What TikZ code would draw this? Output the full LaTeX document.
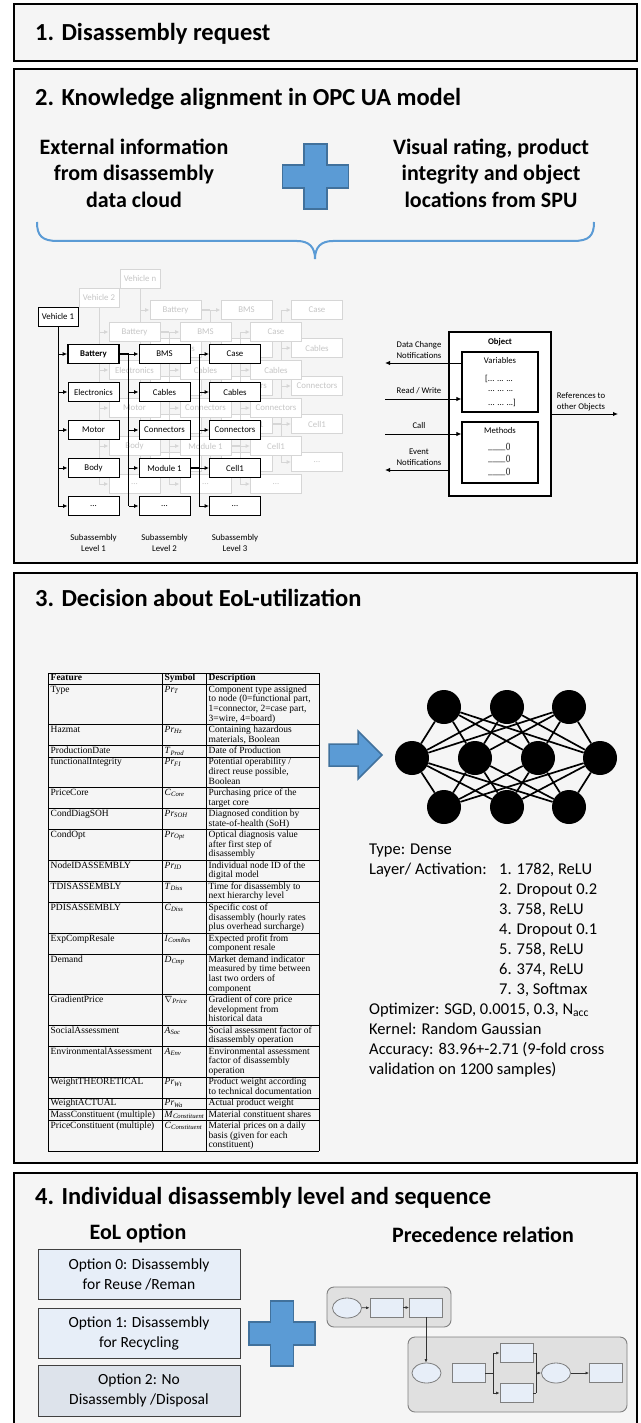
\documentclass[tikz,border=0pt]{standalone}
\usepackage{fontspec}
\setmainfont{Carlito}
\newfontfamily\tabfont{Liberation Serif}
\usetikzlibrary{arrows.meta,calc,shapes.geometric}

\definecolor{panelbg}{HTML}{F5F5F5}
\definecolor{plusblue}{HTML}{5B9BD5}
\definecolor{plusedge}{HTML}{41719C}
\definecolor{ghost}{HTML}{D6D6D6}
\definecolor{ghosttext}{HTML}{C6C6C6}
\definecolor{optblue}{HTML}{E7EEF8}
\definecolor{optgrey}{HTML}{DDE3EB}
\definecolor{grpfill}{HTML}{E0E0E0}
\definecolor{grpedge}{HTML}{7F7F7F}
\definecolor{shapefill}{HTML}{E7EEF8}

\newcommand\tabTop{673}
\newcommand\tabY{673}
\newcommand\tabPitch{9.7}
\newcommand\tabPad{1.6}
\newcount\rowno
\newcommand\sym[2]{\textit{#1}\textsubscript{\textit{#2}}}

\newcommand\trow[4]{%
  \global\advance\rowno by 1
  \node[tcell] (fe\the\rowno) at (50.5,\tabY+0.9) {\strut #2};
  \node[tcell] (sy\the\rowno) at (164.5,\tabY+0.9) {\strut #3};
  \node[tcell] (de\the\rowno) at (208.5,\tabY+0.9) {\strut #4};
  \pgfmathsetmacro\tabYnew{\tabY+#1*\tabPitch+\tabPad}
  \draw[tline] (48,\tabYnew) -- (319,\tabYnew);
  \global\let\tabY\tabYnew
}

\newcommand\bluecross[2]{%
  \draw[plusstyle,shift={(#1,#2)}] (-11.5,-32.5) -- (11.5,-32.5) -- (11.5,-11.5) -- (33,-11.5) -- (33,11.5) -- (11.5,11.5) -- (11.5,32.5) -- (-11.5,32.5) -- (-11.5,11.5) -- (-33,11.5) -- (-33,-11.5) -- (-11.5,-11.5) -- cycle;}

% #1 dx, #2 dy, #3 extra vehicle dy, #4 suffix, #5 vehicle label, #6 style kind (S/G)
\newcommand\treelayer[6]{%
\begin{scope}[shift={(#1,#2)}]
  \node[vbox#6] (v#4) at (58,316.5+#3) {#5};
  \node[box#6,bat#6] (a#41) at (93.5,354) {Battery};
  \node[box#6] (a#42) at (93.5,392) {Electronics};
  \node[box#6] (a#43) at (93.5,430) {Motor};
  \node[box#6] (a#44) at (93.5,468) {Body};
  \node[box#6] (a#45) at (93.5,506) {...};
  \node[box#6] (b#41) at (164.5,354) {BMS};
  \node[box#6] (b#42) at (164.5,392) {Cables};
  \node[box#6] (b#43) at (164.5,430) {Connectors};
  \node[box#6] (b#44) at (164.5,468) {Module 1};
  \node[box#6] (b#45) at (164.5,506) {...};
  \node[box#6] (c#41) at (235,354) {Case};
  \node[box#6] (c#42) at (235,392) {Cables};
  \node[box#6] (c#43) at (235,430) {Connectors};
  \node[box#6] (c#44) at (235,468) {Cell1};
  \node[box#6] (c#45) at (235,506) {...};
  \draw[ln#6] (v#4.south) -- (v#4.south |- a#45.west);
  \foreach \i in {1,...,5} \draw[ar#6] (v#4.south |- a#4\i.west) -- (a#4\i.west);
  \draw[thk#6] (a#41.east) -- ++(9,0) coordinate (j#4);
  \draw[ln#6] (j#4) -- (j#4 |- b#45.west);
  \foreach \i in {1,...,5} \draw[ar#6] (j#4 |- b#4\i.west) -- (b#4\i.west);
  \draw[thk#6] (b#44.east) -- ++(9,0) coordinate (k#4);
  \draw[ln#6] (k#4 |- c#41.west) -- (k#4 |- c#45.west);
  \foreach \i in {1,...,5} \draw[ar#6] (k#4 |- c#4\i.west) -- (c#4\i.west);
\end{scope}}

\tikzset{
  panel/.style={draw=black,line width=2.6,fill=panelbg},
  title/.style={anchor=base west,inner sep=0,font=\fontsize{24.5}{29}\selectfont\bfseries},
  subtxt/.style={align=center,inner sep=0,font=\fontsize{22}{26.5}\selectfont\bfseries},
  plusstyle/.style={fill=plusblue,draw=plusedge,line width=1.5,line join=miter},
  brace/.style={draw=plusblue,line width=2},
  boxS/.style={draw=black,fill=white,line width=0.9,minimum width=51,minimum height=19,inner sep=0,font=\fontsize{8.8}{10}\selectfont},
  batS/.style={line width=1.7,font=\fontsize{8.8}{10}\selectfont\bfseries},
  vboxS/.style={boxS,minimum width=40},
  lnS/.style={draw=black,line width=0.9},
  arS/.style={lnS,-{Latex[length=4.5,width=4]}},
  thkS/.style={draw=black,line width=1.9},
  boxG/.style={boxS,draw=ghost,text=ghosttext},
  batG/.style={},
  vboxG/.style={boxG,minimum width=40},
  lnG/.style={draw=ghost,line width=0.9},
  arG/.style={lnG,-{Latex[length=4.5,width=4]}},
  thkG/.style={draw=ghost,line width=1.9},
  lvl/.style={align=center,inner sep=0,font=\fontsize{8.8}{11}\selectfont},
  objbox/.style={draw=black,fill=white,line width=1.4,minimum width=102,minimum height=164,inner sep=0},
  inbox/.style={draw=black,fill=white,line width=1.1,minimum width=76,minimum height=60,inner sep=0},
  otxt/.style={inner sep=0,align=center,font=\fontsize{8.7}{11}\selectfont},
  oar/.style={draw=black,line width=1,-{Latex[length=5,width=4.5]}},
  tcell/.style={anchor=north west,inner sep=0,align=left,font=\tabfont\fontsize{9.5}{9.7}\selectfont},
  tline/.style={draw=black,line width=0.6},
  nn/.style={circle,fill=black,minimum size=34,inner sep=0},
  nnedge/.style={draw=black,line width=1.7},
  nninfo/.style={anchor=north west,inner sep=0,font=\fontsize{16.5}{20}\selectfont},
  head/.style={inner sep=0,font=\fontsize{22}{26}\selectfont\bfseries},
  optbox/.style={draw=black!75,line width=1,minimum width=202,minimum height=50,inner sep=0,align=center,font=\fontsize{15.5}{20}\selectfont},
  grp/.style={draw=grpedge,fill=grpfill,line width=0.9,rounded corners=7},
  pell/.style={ellipse,draw=grpedge,fill=shapefill,line width=0.8,minimum width=29,minimum height=20,inner sep=0},
  prect/.style={draw=grpedge,fill=shapefill,line width=0.8,minimum width=33,minimum height=19,inner sep=0},
  pln/.style={draw=black!80,line width=0.7},
  par/.style={pln,-{Latex[length=3.5,width=3]}}
}

\begin{document}
\begin{tikzpicture}[x=1pt,y=-1pt]
\useasboundingbox (0,0) rectangle (640,1423);
\fill[white] (0,0) rectangle (640,1423);

% ---------- panels ----------
\draw[panel] (14,4) rectangle (637,61);
\draw[panel] (14,69) rectangle (637,563);
\draw[panel] (14,573) rectangle (637,1163);
\draw[panel] (14,1173) rectangle (637,1440);

% ---------- section 1 ----------
\node[title] (t1) at (35,40.5) {1. Disassembly request};

% ---------- section 2 ----------
\node[title] (t2) at (35,105.5) {2. Knowledge alignment in OPC UA model};
\node[subtxt] (ext) at (134,173) {External information\\from disassembly\\data cloud};
\node[subtxt] (vis) at (491,173) {Visual rating, product\\integrity and object\\locations from SPU};
\bluecross{315.5}{176.5}
\draw[brace] (37,222) .. controls (37,236) and (42,241) .. (58,241) -- (297,241)
  .. controls (309,241) and (315,247) .. (315,259)
  .. controls (315,247) and (321,241) .. (333,241) -- (573,241)
  .. controls (589,241) and (594,236) .. (594,222);

% tree
\treelayer{82}{-44}{6}{n}{Vehicle n}{G}
\treelayer{41}{-22}{3}{t}{Vehicle 2}{G}
\treelayer{0}{0}{0}{o}{Vehicle 1}{S}
\node[lvl] (lv1) at (93.5,543) {Subassembly\\Level 1};
\node[lvl] (lv2) at (164.5,543) {Subassembly\\Level 2};
\node[lvl] (lv3) at (235,543) {Subassembly\\Level 3};

% OPC UA object
\node[objbox] (obj) at (500,414) {};
\node[otxt,font=\fontsize{8.7}{11}\selectfont\bfseries] (objl) at (500,342) {Object};
\node[inbox] (var) at (500,382) {};
\node[otxt] (varl) at (500,361) {Variables};
\node[otxt,anchor=west] (vd1) at (485,379) {[... ... ...};
\node[otxt,anchor=west] (vd2) at (488,391) {... ... ...};
\node[otxt,anchor=west] (vd3) at (488,403) {... ... ...]};
\node[inbox,minimum height=61] (meth) at (500,452.5) {};
\node[otxt] (methl) at (500,431) {Methods};
\node[otxt,anchor=west] (m1) at (488,447) {\_\_\_\_()};
\node[otxt,anchor=west] (m2) at (488,459) {\_\_\_\_()};
\node[otxt,anchor=west] (m3) at (488,472) {\_\_\_\_()};
\coordinate (dcend) at (385,363);
\coordinate (rwstart) at (385,399);
\coordinate (callstart) at (385,434);
\coordinate (evend) at (385,470);
\coordinate (refend) at (618,414);
\draw[oar] (dcend -| var.west) -- (dcend);
\draw[oar] (rwstart) -- (rwstart -| var.west);
\draw[oar] (callstart) -- (callstart -| meth.west);
\draw[oar] (evend -| obj.west) -- (evend);
\draw[oar] (obj.east |- refend) -- (refend);
\node[otxt] (dcl) at (419,350.5) {Data Change\\Notifications};
\node[otxt] (rwl) at (419,391) {Read / Write};
\node[otxt] (calll) at (419,426) {Call};
\node[otxt] (evl) at (419,457) {Event\\Notifications};
\node[otxt] (refl) at (581,402) {References to\\other Objects};

% ---------- section 3 ----------
\node[title] (t3) at (35,606.5) {3. Decision about EoL-utilization};

\trow{1}{\textbf{Feature}}{\textbf{Symbol}}{\textbf{Description}}
\trow{4}{Type}{\sym{Pr}{T}}{Component type assigned\\to node (0=functional part,\\1=connector, 2=case part,\\3=wire, 4=board)}
\trow{2}{Hazmat}{\sym{Pr}{Hz}}{Containing hazardous\\materials, Boolean}
\trow{1}{ProductionDate}{\sym{T}{Prod}}{Date of Production}
\trow{3}{functionalIntegrity}{\sym{Pr}{FI}}{Potential operability /\\direct reuse possible,\\Boolean}
\trow{2}{PriceCore}{\sym{C}{Core}}{Purchasing price of the\\target core}
\trow{2}{CondDiagSOH}{\sym{Pr}{SOH}}{Diagnosed condition by\\state-of-health (SoH)}
\trow{3}{CondOpt}{\sym{Pr}{Opt}}{Optical diagnosis value\\after first step of\\disassembly}
\trow{2}{NodeIDASSEMBLY}{\sym{Pr}{ID}}{Individual node ID of the\\digital model}
\trow{2}{TDISASSEMBLY}{\sym{T}{Diss}}{Time for disassembly to\\next hierarchy level}
\trow{3}{PDISASSEMBLY}{\sym{C}{Diss}}{Specific cost of\\disassembly (hourly rates\\plus overhead surcharge)}
\trow{2}{ExpCompResale}{\sym{I}{ComRes}}{Expected profit from\\component resale}
\trow{4}{Demand}{\sym{D}{Cmp}}{Market demand indicator\\measured by time between\\last two orders of\\component}
\trow{3}{GradientPrice}{$\nabla$\textsubscript{\textit{Price}}}{Gradient of core price\\development from\\historical data}
\trow{2}{SocialAssessment}{\sym{A}{Soc}}{Social assessment factor of\\disassembly operation}
\trow{3}{EnvironmentalAssessment}{\sym{A}{Env}}{Environmental assessment\\factor of disassembly\\operation}
\trow{2}{WeightTHEORETICAL}{\sym{Pr}{Wt}}{Product weight according\\to technical documentation}
\trow{1}{WeightACTUAL}{\sym{Pr}{Wa}}{Actual product weight}
\trow{1}{MassConstituent (multiple)}{\sym{M}{Constituent}}{Material constituent shares}
\trow{3}{PriceConstituent (multiple)}{\sym{C}{Constituent}}{Material prices on a daily\\basis (given for each\\constituent)}
\draw[tline] (48,\tabTop) -- (319,\tabTop);
\draw[tline] (48,\tabTop) -- (48,\tabY);
\draw[tline] (162,\tabTop) -- (162,\tabY);
\draw[tline] (206,\tabTop) -- (206,\tabY);
\draw[tline] (319,\tabTop) -- (319,\tabY);

% arrow to network
\draw[plusstyle] (329,744) -- (358,744) -- (358,731) -- (382,755) -- (358,779) -- (358,766) -- (329,766) -- cycle;

% neural network
\foreach \i/\x in {1/444,2/507,3/569} \node[nn] (nt\i) at (\x,707) {};
\foreach \i/\x in {1/412,2/475,3/538,4/600} \node[nn] (nm\i) at (\x,758) {};
\foreach \i/\x in {1/444,2/507,3/569} \node[nn] (nb\i) at (\x,807) {};
\foreach \i in {1,2,3} \foreach \j in {1,2,3,4} {
  \draw[nnedge] (nt\i) -- (nm\j);
  \draw[nnedge] (nb\i) -- (nm\j);
}

\node[nninfo] (info) at (369,840) {\begin{tabular}{@{}p{130pt}@{}l@{}}
Type: Dense & \\
Layer/ Activation: & 1. 1782, ReLU\\
 & 2. Dropout 0.2\\
 & 3. 758, ReLU\\
 & 4. Dropout 0.1\\
 & 5. 758, ReLU\\
 & 6. 374, ReLU\\
 & 7. 3, Softmax\\
\multicolumn{2}{@{}l@{}}{Optimizer: SGD, 0.0015, 0.3, N\textsubscript{acc}}\\
\multicolumn{2}{@{}l@{}}{Kernel: Random Gaussian}\\
\multicolumn{2}{@{}l@{}}{Accuracy: 83.96+-2.71 (9-fold cross}\\
\multicolumn{2}{@{}l@{}}{validation on 1200 samples)}
\end{tabular}};

% ---------- section 4 ----------
\node[title] (t4) at (35,1204) {4. Individual disassembly level and sequence};
\node[head] (eol) at (138,1233) {EoL option};
\node[head] (prec) at (483,1235) {Precedence relation};
\node[optbox,fill=optblue] (o0) at (139,1274) {Option 0: Disassembly\\for Reuse /Reman};
\node[optbox,fill=optblue] (o1) at (139,1333) {Option 1: Disassembly\\for Recycling};
\node[optbox,fill=optgrey,minimum height=51] (o2) at (139,1390.5) {Option 2: No\\Disassembly /Disposal};
\bluecross{282}{1333.5}

% precedence graph
\draw[grp] (327,1287) rectangle (451,1327);
\draw[grp] (408,1337) rectangle (627,1412);
\node[pell] (e1) at (347,1308) {};
\node[prect] (r1) at (386.5,1307.5) {};
\node[prect] (r2) at (426,1307.5) {};
\draw[par] (e1) -- (r1);
\draw[par] (r1) -- (r2);
\node[pell] (e2) at (426.5,1373) {};
\node[prect] (r3) at (468.5,1373) {};
\node[prect] (r4) at (516.5,1353) {};
\node[prect] (r5) at (516.5,1393) {};
\node[pell] (e3) at (556,1373) {};
\node[prect] (r6) at (606,1373) {};
\draw[par] (r2.south) -- (r2.south |- e2.north);
\draw[pln] (r3.east) -- ++(8,0) coordinate (sp);
\draw[pln] (sp |- r4.west) -- (sp |- r5.west);
\draw[par] (sp |- r4.west) -- (r4.west);
\draw[par] (sp |- r5.west) -- (r5.west);
\draw[pln] (r4.east) -- ++(3,0) coordinate (mg);
\draw[pln] (r5.east) -- (r5.east -| mg);
\draw[pln] (mg) -- (mg |- r5.east);
\draw[par] (mg |- e3.west) -- (e3.west);
\draw[par] (e3.east) -- (r6.west);
\end{tikzpicture}
\end{document}
